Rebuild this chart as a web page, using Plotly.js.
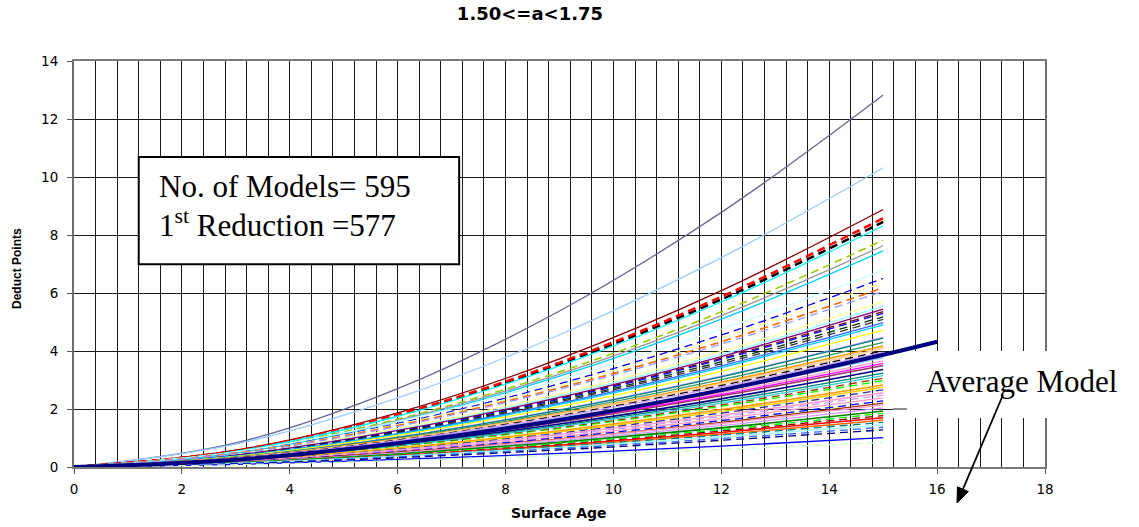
<!DOCTYPE html>
<html>
<head>
<meta charset="utf-8">
<script src="https://cdn.plot.ly/plotly-3.0.1.min.js"></script>
<style>
  html, body { margin: 0; padding: 0; background: #fff; }
  #chart { width: 1139px; height: 527px; }
</style>
</head>
<body>
<div id="chart"></div>
<script>
// Surface age (years) at which each deduct model is sampled
const surfaceAge = [0, 3, 6, 9, 12, 15];
// The average model runs one year further
const averageAge = [0, 3, 6, 9, 12, 15, 16];

// Deduct points of the individual models, steepest group
const upperModels = [
  [0, 0.83, 2.70, 5.38, 8.78, 12.83],
  [0, 0.79, 2.38, 4.56, 7.22, 10.32],
  [0, 0.58, 1.87, 3.73, 6.08, 8.88],
  [0, 0.55, 1.78, 3.55, 5.78, 8.45],
  [0, 0.56, 1.81, 3.60, 5.87, 8.58],
  [0, 0.54, 1.75, 3.49, 5.69, 8.32],
  [0, 0.51, 1.65, 3.28, 5.35, 7.82],
  [0, 0.49, 1.61, 3.20, 5.22, 7.63],
  [0, 0.48, 1.57, 3.13, 5.10, 7.45],
  [0, 0.52, 1.57, 3.00, 4.75, 6.79],
  [0, 0.49, 1.50, 2.87, 4.55, 6.50],
  [0, 0.48, 1.47, 2.81, 4.45, 6.36],
  [0, 0.47, 1.43, 2.73, 4.32, 6.18],
  [0, 0.46, 1.40, 2.68, 4.24, 6.06]
];
// Middle group
const middleModels = [
  [0, 0.43, 1.32, 2.52, 3.99, 5.70],
  [0, 0.42, 1.28, 2.45, 3.88, 5.55],
  [0, 0.41, 1.26, 2.40, 3.81, 5.44],
  [0, 0.41, 1.24, 2.37, 3.75, 5.36],
  [0, 0.40, 1.22, 2.34, 3.71, 5.30],
  [0, 0.39, 1.20, 2.29, 3.63, 5.18],
  [0, 0.39, 1.17, 2.25, 3.56, 5.09],
  [0, 0.38, 1.15, 2.20, 3.49, 4.98],
  [0, 0.37, 1.13, 2.16, 3.43, 4.90],
  [0, 0.36, 1.09, 2.08, 3.30, 4.72],
  [0, 0.34, 1.03, 1.97, 3.13, 4.47],
  [0, 0.34, 1.02, 1.96, 3.11, 4.44],
  [0, 0.33, 0.99, 1.90, 3.01, 4.30],
  [0, 0.32, 0.96, 1.84, 2.92, 4.17],
  [0, 0.31, 0.94, 1.81, 2.86, 4.09],
  [0, 0.31, 0.93, 1.77, 2.81, 4.01],
  [0, 0.30, 0.91, 1.74, 2.76, 3.95]
];
// Flattest group
const lowerModels = [
  [0, 0.29, 0.87, 1.67, 2.65, 3.78],
  [0, 0.28, 0.84, 1.62, 2.56, 3.66],
  [0, 0.27, 0.82, 1.58, 2.50, 3.57],
  [0, 0.27, 0.81, 1.55, 2.45, 3.50],
  [0, 0.26, 0.78, 1.48, 2.35, 3.36],
  [0, 0.25, 0.75, 1.43, 2.27, 3.24],
  [0, 0.24, 0.73, 1.39, 2.20, 3.15],
  [0, 0.23, 0.71, 1.35, 2.14, 3.06],
  [0, 0.23, 0.69, 1.32, 2.09, 2.98],
  [0, 0.22, 0.67, 1.29, 2.04, 2.91],
  [0, 0.22, 0.65, 1.25, 1.98, 2.83],
  [0, 0.21, 0.63, 1.21, 1.92, 2.75],
  [0, 0.20, 0.61, 1.17, 1.86, 2.66],
  [0, 0.19, 0.59, 1.13, 1.79, 2.56],
  [0, 0.19, 0.57, 1.10, 1.74, 2.48],
  [0, 0.18, 0.55, 1.05, 1.67, 2.38],
  [0, 0.17, 0.53, 1.01, 1.60, 2.28],
  [0, 0.17, 0.51, 0.97, 1.54, 2.20],
  [0, 0.16, 0.49, 0.95, 1.50, 2.14],
  [0, 0.16, 0.47, 0.90, 1.43, 2.04],
  [0, 0.15, 0.45, 0.85, 1.35, 1.93],
  [0, 0.14, 0.43, 0.82, 1.29, 1.85],
  [0, 0.13, 0.41, 0.78, 1.24, 1.77],
  [0, 0.13, 0.39, 0.75, 1.19, 1.70],
  [0, 0.12, 0.37, 0.72, 1.13, 1.62],
  [0, 0.14, 0.39, 0.72, 1.10, 1.54],
  [0, 0.13, 0.37, 0.67, 1.04, 1.45],
  [0, 0.12, 0.35, 0.64, 0.98, 1.37],
  [0, 0.11, 0.32, 0.59, 0.92, 1.28],
  [0, 0.09, 0.26, 0.47, 0.72, 1.01],
  [0, 0.08, 0.22, 0.40, 0.61, 0.85]
];
// Average model
const averageModel = [0, 0.25, 0.82, 1.62, 2.65, 3.87, 4.32];

// Text
const chartTitle = '1.50&lt;=a&lt;1.75';
const xTitle = 'Surface Age';
const yTitle = 'Deduct Points';
const modelCountText = 'No. of Models= 595';
const reductionText = '1<sup>st</sup> Reduction =577';
const averageLabel = 'Average Model';

// Line styles, one entry per model in each group
const upperColors = ['#666699','#99CCFF','#800000','#000000','#FF0000','#00FFFF','#99CC00','#969696','#00CCFF','#CCFFFF','#0000FF','#FFFF99','#FF6600','#9999FF'];
const upperDashed = [0,0,0,1,1,0,1,0,0,0,1,1,1,1];
const upperWidths = [1.3,1.3,1.3,2.5,2.5,1.3,1.6,1.3,1.3,1.3,1.3,1.3,1.6,1.3];

const middleColors = ['#FFFF99','#99FFFF','#800080','#800000','#0000FF','#003300','#333333','#3366FF','#00CCFF','#FFFF00','#CC99FF','#008080','#339966','#FF9900','#FFCC99','#000000','#CC99FF'];
const middleDashed = [0,0,0,1,1,1,1,0,0,0,0,0,0,0,0,1,0];
const middleWidths = [1.3,1.3,1.3,1.3,1.3,1.3,1.3,1.3,1.3,1.3,1.3,1.3,1.3,1.6,2,1.3,1.3];

const lowerColors = ['#99CCFF','#FF99CC','#FF00FF','#993366','#000080','#008080','#33CCCC','#993300','#00FF00','#FFFF99','#FF9900','#FFCC00','#333399','#FF99CC','#CC99FF','#FF99CC','#0000FF','#993300','#FF99CC','#CC99FF','#008000','#00FF00','#800000','#FF0000','#FF6600','#008080','#99FFFF','#3366FF','#000080','#0000FF','#CCFFCC'];
const lowerDashed = [0,0,0,0,0,0,0,1,1,1,0,0,1,0,1,0,1,0,0,0,0,1,1,0,0,1,0,1,1,0,1];
const lowerWidths = [2.5,1.3,1.3,1.3,1.6,1.3,1.3,1.3,1.3,1.3,1.6,1.3,1.3,1.3,1.3,1.3,1.3,1.3,1.3,1.3,1.6,1.3,1.3,1.6,1.3,1.3,1.3,1.3,1.3,1.3,1.3];

const traces = [];
function addGroup(models, colors, dashed, widths) {
  models.forEach((ys, i) => {
    traces.push({
      type: 'scatter', mode: 'lines', x: surfaceAge, y: ys,
      line: { color: colors[i], width: widths[i], dash: dashed[i] ? '8px,5px' : 'solid', shape: 'spline', smoothing: 1 },
      hoverinfo: 'skip'
    });
  });
}
// flattest first so the steeper models sit on top
addGroup(lowerModels, lowerColors, lowerDashed, lowerWidths);
addGroup(middleModels, middleColors, middleDashed, middleWidths);
addGroup(upperModels, upperColors, upperDashed, upperWidths);

traces.push({
  type: 'scatter', mode: 'lines', x: averageAge, y: averageModel,
  line: { color: '#000080', width: 4, shape: 'spline', smoothing: 1 },
  hoverinfo: 'skip'
});

const gridColor = '#1a1a1a';
const axisFont = { family: 'DejaVu Sans', size: 13.5, color: '#000' };

const layout = {
  width: 1139, height: 527,
  margin: { l: 74, r: 94, t: 61, b: 60 },
  paper_bgcolor: '#fff', plot_bgcolor: '#fff',
  showlegend: false,
  title: {
    text: chartTitle, xref: 'container', yref: 'container',
    x: 0.4653, y: 0.9738, xanchor: 'center', yanchor: 'middle',
    font: { family: 'DejaVu Sans', size: 18, color: '#000', weight: 'bold' }
  },
  xaxis: {
    range: [0, 18], tick0: 0, dtick: 2,
    showgrid: true, gridcolor: gridColor, gridwidth: 1,
    minor: { tick0: 0, dtick: 0.4, showgrid: true, gridcolor: gridColor, gridwidth: 1, ticks: '' },
    showline: true, mirror: true, linecolor: '#7a7a7a', linewidth: 2,
    ticks: 'outside', ticklen: 5, tickcolor: '#555', tickwidth: 1,
    ticklabelstandoff: 4,
    tickfont: axisFont, zeroline: false, fixedrange: true
  },
  yaxis: {
    range: [0, 14], tick0: 0, dtick: 2,
    showgrid: true, gridcolor: gridColor, gridwidth: 1,
    showline: true, mirror: true, linecolor: '#6e6e6e', linewidth: 2,
    ticks: 'outside', ticklen: 5, tickcolor: '#555', tickwidth: 1,
    ticklabelstandoff: 6,
    tickfont: axisFont, zeroline: false, fixedrange: true
  },
  shapes: [
    // box holding the model counts
    { type: 'rect', xref: 'x', yref: 'y', x0: 1.2, x1: 7.14, y0: 6.99, y1: 10.69,
      fillcolor: '#fff', line: { color: '#000', width: 2 }, layer: 'above' },
    // clear area behind the average-model label
    { type: 'rect', xref: 'x', yref: 'y', x0: 15.18, x1: 18, y0: 1.69, y1: 4.0,
      fillcolor: '#fff', line: { width: 0 }, layer: 'between' },
    { type: 'rect', xref: 'paper', yref: 'y', x0: 0.995, x1: 1.006, y0: 1.69, y1: 4.0,
      fillcolor: '#fff', line: { width: 0 }, layer: 'above' },
    { type: 'line', xref: 'x', yref: 'y', x0: 15.18, x1: 15.44, y0: 2, y1: 2,
      line: { color: gridColor, width: 1 }, layer: 'between' },
    // arrow from the label down past the axis
    { type: 'line', xref: 'paper', yref: 'paper', x0: 0.9567, y0: 0.1773, x1: 0.9155, y1: -0.0547,
      line: { color: '#000', width: 1.8 }, layer: 'above' },
    { type: 'path', xref: 'paper', yref: 'paper',
      path: 'M 0.9094 -0.0887 L 0.9211 -0.0605 L 0.9098 -0.0489 Z',
      fillcolor: '#000', line: { color: '#000', width: 1 }, layer: 'above' }
  ],
  annotations: [
    { text: modelCountText, xref: 'x', yref: 'y', x: 1.54, y: 9.68, xanchor: 'left', yanchor: 'middle',
      showarrow: false, font: { family: 'Liberation Serif', size: 31, color: '#000' } },
    { text: reductionText, xref: 'x', yref: 'y', x: 1.54, y: 8.39, xanchor: 'left', yanchor: 'middle',
      showarrow: false, font: { family: 'Liberation Serif', size: 31, color: '#000' } },
    { text: averageLabel, xref: 'x', yref: 'y', x: 15.76, y: 2.96, xanchor: 'left', yanchor: 'middle',
      showarrow: false, font: { family: 'Liberation Serif', size: 31, color: '#000' } },
    { text: yTitle, xref: 'paper', yref: 'paper', x: -0.0587, y: 0.4877, xanchor: 'center', yanchor: 'middle',
      textangle: -90, showarrow: false,
      font: { family: 'Liberation Sans', size: 12, color: '#000', weight: 'bold' } },
    { text: xTitle, xref: 'paper', yref: 'paper', x: 0.4995, y: -0.1133, xanchor: 'center', yanchor: 'middle',
      showarrow: false,
      font: { family: 'DejaVu Sans', size: 14, color: '#000', weight: 'bold' } }
  ]
};

Plotly.newPlot('chart', traces, layout, { staticPlot: true, displayModeBar: false });
</script>
</body>
</html>
